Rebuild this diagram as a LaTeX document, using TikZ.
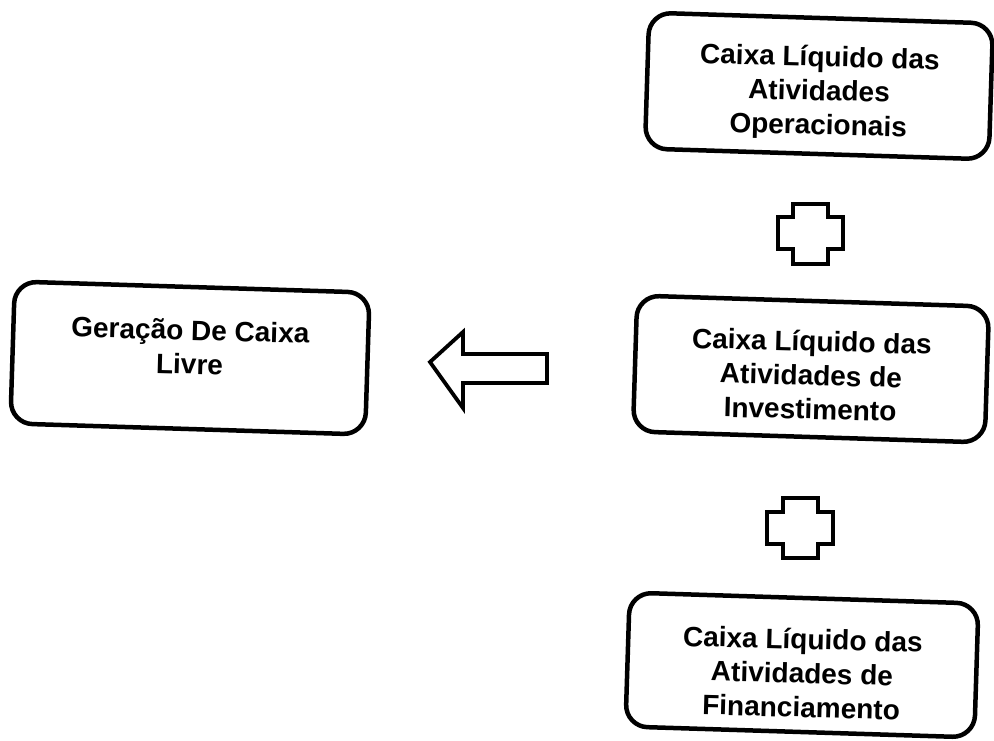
\documentclass[tikz,border=0pt]{standalone}
\usepackage{fontspec}
\setmainfont{Liberation Sans}
\begin{document}
\begin{tikzpicture}[x=1pt,y=-1pt,
  box/.style={draw, line width=4.5pt, rounded corners=22pt, rotate=-1.8, inner sep=0pt},
  txt/.style={align=center, rotate=-1.5, inner sep=0pt,
    font=\fontsize{28}{34}\selectfont\bfseries},
  sym/.style={draw, line width=3.8pt, line join=miter, fill=white}]
\useasboundingbox (0,0) rectangle (994,740);
% boxes
\node[box, minimum width=344pt, minimum height=136pt] (op) at (819,86) {};
\node[txt] (optxt) at ([yshift=-7pt]op.center) {Caixa Líquido das\\Atividades\\Operacionais};
\node[box, minimum width=352pt, minimum height=136pt] (inv) at (811,369) {};
\node[txt] (invtxt) at ([yshift=-6pt]inv.center) {Caixa Líquido das\\Atividades de\\Investimento};
\node[box, minimum width=349pt, minimum height=134pt] (fin) at (802,665) {};
\node[txt] (fintxt) at ([yshift=-8pt]fin.center) {Caixa Líquido das\\Atividades de\\Financiamento};
\node[box, minimum width=355pt, minimum height=142pt] (ger) at (190,358) {};
\node[txt] (gertxt) at ([yshift=11pt]ger.center) {Geração De Caixa\\Livre};
% plus signs
\coordinate (p1) at (810,234);
\draw[sym] ([shift={(-17,-30)}]p1) -- ++(35,0) -- ++(0,13) -- ++(15,0) -- ++(0,32) -- ++(-15,0)
  -- ++(0,15) -- ++(-35,0) -- ++(0,-15) -- ++(-15,0) -- ++(0,-32) -- ++(15,0) -- cycle;
\coordinate (p2) at (800,528);
\draw[sym] ([shift={(-17,-30)}]p2) -- ++(35,0) -- ++(0,14) -- ++(15,0) -- ++(0,32) -- ++(-15,0)
  -- ++(0,14) -- ++(-35,0) -- ++(0,-14) -- ++(-16,0) -- ++(0,-32) -- ++(16,0) -- cycle;
% arrow
\coordinate (tip) at (430,362);
\draw[sym] (tip) -- ++(33,-30) -- ++(0,22) -- ++(84,0) -- ++(0,29) -- ++(-84,0) -- ++(0,25) -- cycle;
\end{tikzpicture}
\end{document}
